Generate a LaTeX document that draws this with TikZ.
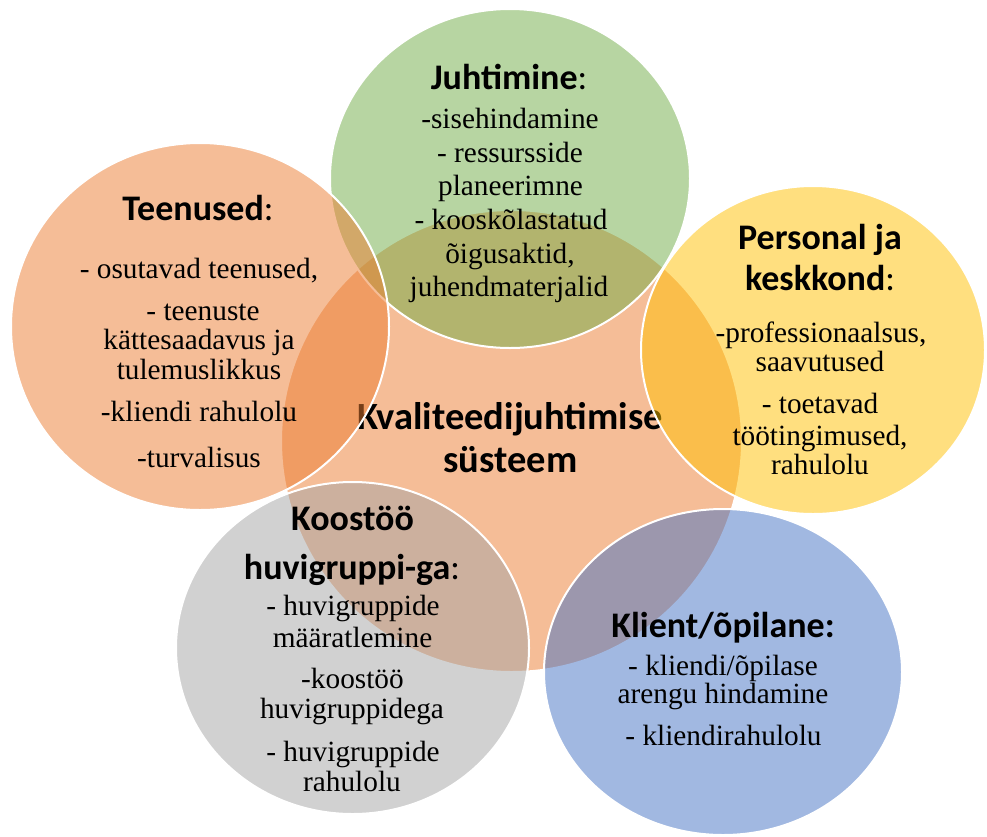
\documentclass[tikz,border=0pt]{standalone}
\usepackage{fontspec}
\setmainfont{Liberation Serif}
\newfontfamily\headf{Carlito}
\usetikzlibrary{shapes.geometric}
\definecolor{cOrange}{HTML}{ED7D31}
\definecolor{cGreen}{HTML}{70AD47}
\definecolor{cYellow}{HTML}{FFC000}
\definecolor{cBlue}{HTML}{4472C4}
\definecolor{cGray}{HTML}{A5A5A5}
\tikzset{
  bubble/.style={ellipse, inner sep=0pt, outer sep=0pt, draw=white, line width=2pt, fill opacity=0.5},
  body/.style={anchor=base, inner sep=0pt, font=\fontsize{29.3}{30}\selectfont},
  head/.style={anchor=base, inner sep=0pt, font=\headf\bfseries\fontsize{36}{40}\selectfont},
  centre/.style={anchor=base, inner sep=0pt, font=\headf\bfseries\fontsize{38.5}{42}\selectfont},
}
\newcommand{\lcolon}{{\mdseries :}}
\begin{document}
\begin{tikzpicture}[x=1pt,y=-1pt]
\useasboundingbox (0,0) rectangle (987,836);
\fill[white] (0,0) rectangle (987,836);
% central circle and its text
\node[bubble, fill=cOrange, minimum width=461pt, minimum height=462pt] (core) at (511.5,441) {};
\node[centre] (core1) at (510,429) {Kvaliteedijuhtimise};
\node[centre] (core2) at (510.5,472) {süsteem};
% Juhtimine
\node[bubble, fill=cGreen, minimum width=360pt, minimum height=339pt] (juht) at (510,178.5) {};
\node[head] (j0) at (509,89) {Juhtimine\lcolon};
\node[body] (j1) at (510,128) {-sisehindamine};
\node[body] (j2) at (510,162) {- ressursside};
\node[body] (j3) at (510.5,195) {planeerimne};
\node[body] (j4) at (511,229) {- kooskõlastatud};
\node[body] (j5) at (510,263) {õigusaktid,};
\node[body] (j6) at (509,296) {juhendmaterjalid};
% Personal ja keskkond
\node[bubble, fill=cYellow, minimum width=344pt, minimum height=328pt] (pers) at (813,350) {};
\node[head] (p0) at (820,249) {Personal ja};
\node[head] (p1) at (820,290) {keskkond\lcolon};
\node[body] (p2) at (821,342) {-professionaalsus,};
\node[body] (p3) at (820,371) {saavutused};
\node[body] (p4) at (820,413) {- toetavad};
\node[body] (p5) at (820,445) {töötingimused,};
\node[body] (p6) at (820,474) {rahulolu};
% Klient
\node[bubble, fill=cBlue, minimum width=358pt, minimum height=326pt] (klient) at (723,672) {};
\node[head] (k0) at (723,637) {Klient/õpilane:};
\node[body] (k1) at (723,675) {- kliendi/õpilase};
\node[body] (k2) at (723,703) {arengu hindamine};
\node[body] (k3) at (723.5,745) {- kliendirahulolu};
% Koostoo
\node[bubble, fill=cGray, minimum width=353pt, minimum height=332pt] (koos) at (352.5,648) {};
\node[head] (c0) at (352.5,530) {Koostöö};
\node[head] (c1) at (352,579) {huvigruppi-ga\lcolon};
\node[body] (c2) at (353,615) {- huvigruppide};
\node[body] (c3) at (352.5,647) {määratlemine};
\node[body] (c4) at (352.5,688) {-koostöö};
\node[body] (c5) at (352,718) {huvigruppidega};
\node[body] (c6) at (353,761) {- huvigruppide};
\node[body] (c7) at (352,791) {rahulolu};
% Teenused
\node[bubble, fill=cOrange, minimum width=378pt, minimum height=367pt] (teen) at (200,326.5) {};
\node[head] (t0) at (198,220) {Teenused\lcolon};
\node[body] (t1) at (199,278) {- osutavad teenused,};
\node[body] (t2) at (203,320) {- teenuste};
\node[body] (t3) at (199,349) {kättesaadavus ja};
\node[body] (t4) at (199,379) {tulemuslikkus};
\node[body] (t5) at (199,421) {-kliendi rahulolu};
\node[body] (t6) at (199,467) {-turvalisus};
\end{tikzpicture}
\end{document}
